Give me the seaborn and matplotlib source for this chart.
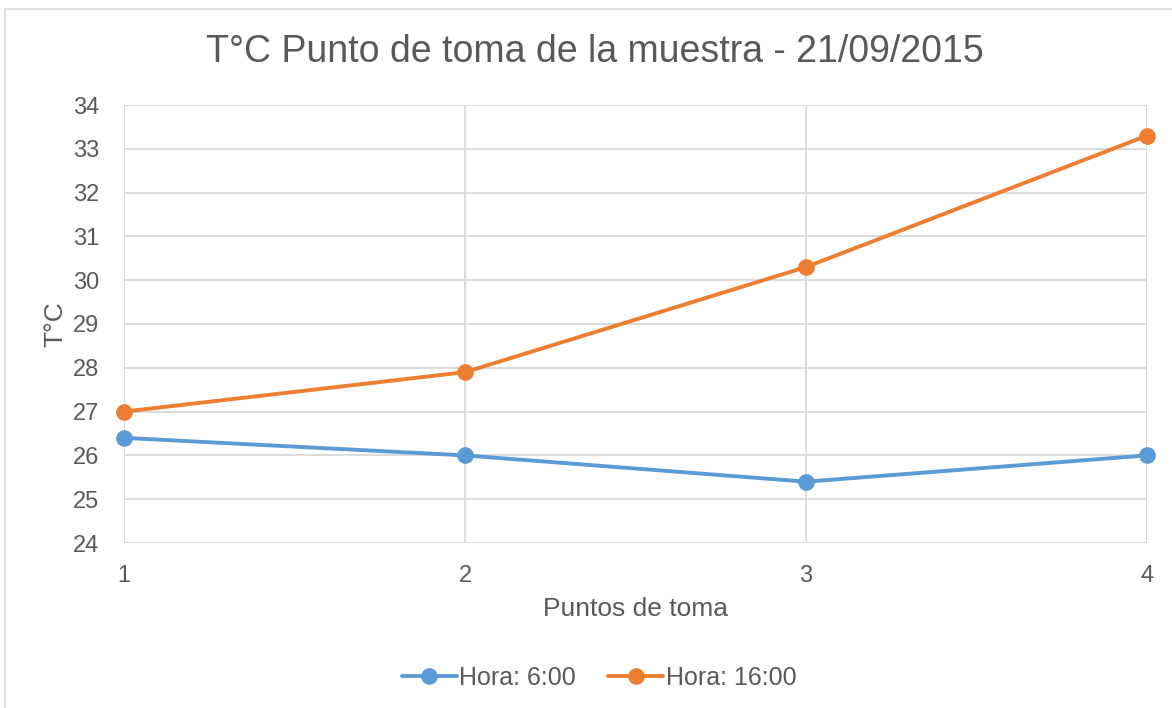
import pandas as pd
import matplotlib.pyplot as plt
import seaborn as sns
from matplotlib.patches import Rectangle

# data
puntos = [1, 2, 3, 4]
hora_6 = [26.4, 26.0, 25.4, 26.0]
hora_16 = [27.0, 27.9, 30.3, 33.3]
series = ["Hora: 6:00", "Hora: 16:00"]
colores = ["#5B9BD5", "#ED7D31"]

df = pd.DataFrame({
    "punto": puntos * 2,
    "temp": hora_6 + hora_16,
    "serie": [series[0]] * 4 + [series[1]] * 4,
})

sns.set_style("white")
plt.rcParams["font.family"] = ["Liberation Sans", "DejaVu Sans"]
gris = "#595959"

fig = plt.figure(figsize=(11.72, 7.08), dpi=100)
ax = fig.add_axes([124 / 1172, 1 - 543 / 708, (1147 - 124) / 1172, (543 - 105) / 708])

sns.lineplot(
    data=df, x="punto", y="temp", hue="serie",
    palette=colores, marker="o", markersize=12, markeredgewidth=0,
    linewidth=2.8, ax=ax, clip_on=False, zorder=3,
)

ax.set_xlim(1, 4)
ax.set_ylim(24, 34)
ax.set_xticks(puntos)
ax.set_yticks(range(24, 35))
ax.grid(True, color="#d9d9d9", linewidth=1.3)
ax.set_axisbelow(True)
for s in ax.spines.values():
    s.set_visible(False)
ax.tick_params(length=0, labelsize=17, labelcolor=gris)
ax.tick_params(axis="y", pad=18)
ax.tick_params(axis="x", pad=16)

ax.set_xlabel("Puntos de toma", fontsize=19, color=gris, labelpad=7)
ax.set_ylabel("T°C", fontsize=19, color=gris, labelpad=4)
fig.text(595 / 1172, 1 - 52 / 708, "T°C Punto de toma de la muestra - 21/09/2015",
         ha="center", va="center", fontsize=27, color=gris)

ax.legend(loc="center", bbox_to_anchor=(599 / 1172, 1 - 678 / 708),
          bbox_transform=fig.transFigure, ncol=2, frameon=False,
          fontsize=18, labelcolor=gris, handlelength=2.2,
          handletextpad=0.1, columnspacing=1.3)

# light chart border
fig.patches.append(Rectangle((5 / 1172, -0.1), 1.2, 1 - 9 / 708 + 0.1,
                             transform=fig.transFigure, fill=False,
                             edgecolor="#d9d9d9", linewidth=1.2))

fig.savefig("out.png", dpi=100)
